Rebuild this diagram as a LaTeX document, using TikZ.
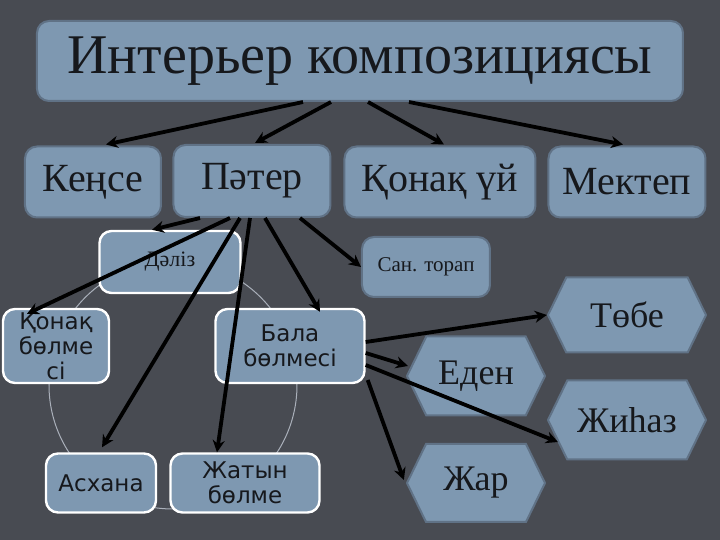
\documentclass[tikz,border=0pt]{standalone}
\usepackage{fontspec}
\setmainfont{Liberation Serif}
\newfontfamily\cyclefont{DejaVu Sans}
\usetikzlibrary{arrows.meta,shapes.symbols,calc}

\definecolor{bgdark}{RGB}{72,75,82}
\definecolor{boxfill}{RGB}{126,152,177}
\definecolor{boxedge}{RGB}{96,114,134}
\definecolor{ringline}{RGB}{170,176,186}
\definecolor{textdark}{RGB}{22,24,28}

\begin{document}
\begin{tikzpicture}[x=0.5pt, y=-0.5pt, >={Stealth[length=6pt,width=6pt]},
  box/.style={draw=boxedge, line width=1pt, fill=boxfill, rounded corners=6pt, text=textdark, inner sep=2pt},
  cyclebox/.style={draw=white, line width=1.2pt, fill=boxfill, rounded corners=6pt, text=textdark, align=center, inner sep=1pt, font=\cyclefont\fontsize{11.5}{12.5}\selectfont},
  hexbox/.style={shape=signal, signal to=east and west, signal pointer angle=128, draw=boxedge, line width=1pt, fill=boxfill, text=textdark, inner sep=0pt, font=\fontsize{18}{20}\selectfont},
  link/.style={->, line width=1.9pt, black}]
  \useasboundingbox (0,0) rectangle (720,540);
  \fill[bgdark] (0,0) rectangle (720,540);

  % ring behind the room boxes
  \draw[ringline, line width=0.5pt] (173,385) circle [radius=124];

  \node[box, minimum width=323pt, minimum height=40pt, font=\fontsize{28}{30}\selectfont] (title) at (360,61) {Интерьер композициясы};

  \node[box, minimum width=68pt, minimum height=35.5pt, font=\fontsize{20}{22}\selectfont] (kense) at (93,182) {Кеңсе};
  \node[box, minimum width=78.5pt, minimum height=36pt, font=\fontsize{20}{22}\selectfont] (pater) at (252,181) {Пәтер};
  \node[box, minimum width=95.5pt, minimum height=35.5pt, font=\fontsize{20}{22}\selectfont] (qonaq) at (440,182) {Қонақ үй};
  \node[box, minimum width=78.5pt, minimum height=35.5pt, font=\fontsize{20}{22}\selectfont] (mektep) at (627,182) {Мектеп};

  \node[cyclebox, minimum width=70.5pt, minimum height=31pt, font=\fontsize{11}{12}\selectfont] (daliz) at (170,262) {Дәліз};
  \node[cyclebox, minimum width=53pt, minimum height=37pt] (qbolme) at (56,346) {Қонақ\\бөлме\\сі};
  \node[cyclebox, minimum width=74.5pt, minimum height=37pt] (bala) at (290,346) {Бала\\бөлмесі};
  \node[cyclebox, minimum width=55pt, minimum height=29.5pt] (askhana) at (101,483) {Асхана};
  \node[cyclebox, minimum width=74.5pt, minimum height=29.5pt] (zhatyn) at (245,483) {Жатын\\бөлме};

  \node[box, minimum width=64pt, minimum height=30pt, font=\fontsize{10.5}{12}\selectfont] (santorap) at (426,267) {Сан. торап};

  \node[hexbox, minimum width=79pt, minimum height=37.5pt] (tobe) at (627,315) {Төбе};
  \node[hexbox, minimum width=69pt, minimum height=39.5pt] (eden) at (476,376) {Еден};
  \node[hexbox, minimum width=79pt, minimum height=39.5pt] (zhihaz) at (627,420) {Жиһаз};
  \node[hexbox, minimum width=69pt, minimum height=39pt] (zhar) at (476,483) {Жар};

  \draw[link] ($(title.south)+(-57,0)$) -- ($(kense.north)+(13,-1)$);
  \draw[link] ($(title.south)+(-29,0)$) -- ($(pater.north)+(3,-1)$);
  \draw[link] ($(title.south)+(8,0)$) -- ($(qonaq.north)+(4,-1)$);
  \draw[link] ($(title.south)+(49,0)$) -- ($(mektep.north)+(-4,-1)$);

  \draw[link] ($(pater.south)+(-52,0)$) -- ($(daliz.north)+(-18,0)$);
  \draw[link] ($(pater.south)+(-22,0)$) -- ($(qbolme.north)+(-29,6)$);
  \draw[link] ($(pater.south)+(-12,0)$) -- ($(askhana.north)+(1,-5)$);
  \draw[link] ($(pater.south)+(-2,0)$) -- ($(zhatyn.north)+(-28,0)$);
  \draw[link] ($(pater.south)+(13,0)$) -- ($(bala.north)+(30,4)$);
  \draw[link] ($(pater.south)+(48,0)$) -- (santorap.west);

  \draw[link] ($(bala.east)+(0,-4)$) -- (tobe.west);
  \draw[link] ($(bala.east)+(0,7)$) -- ($(eden.west)+(2,-10)$);
  \draw[link] ($(bala.east)+(0,19)$) -- ($(zhihaz.west)+(11,22)$);
  \draw[link] ($(bala.east)+(2,34)$) -- ($(zhar.west)+(-2,-3)$);
\end{tikzpicture}
\end{document}
